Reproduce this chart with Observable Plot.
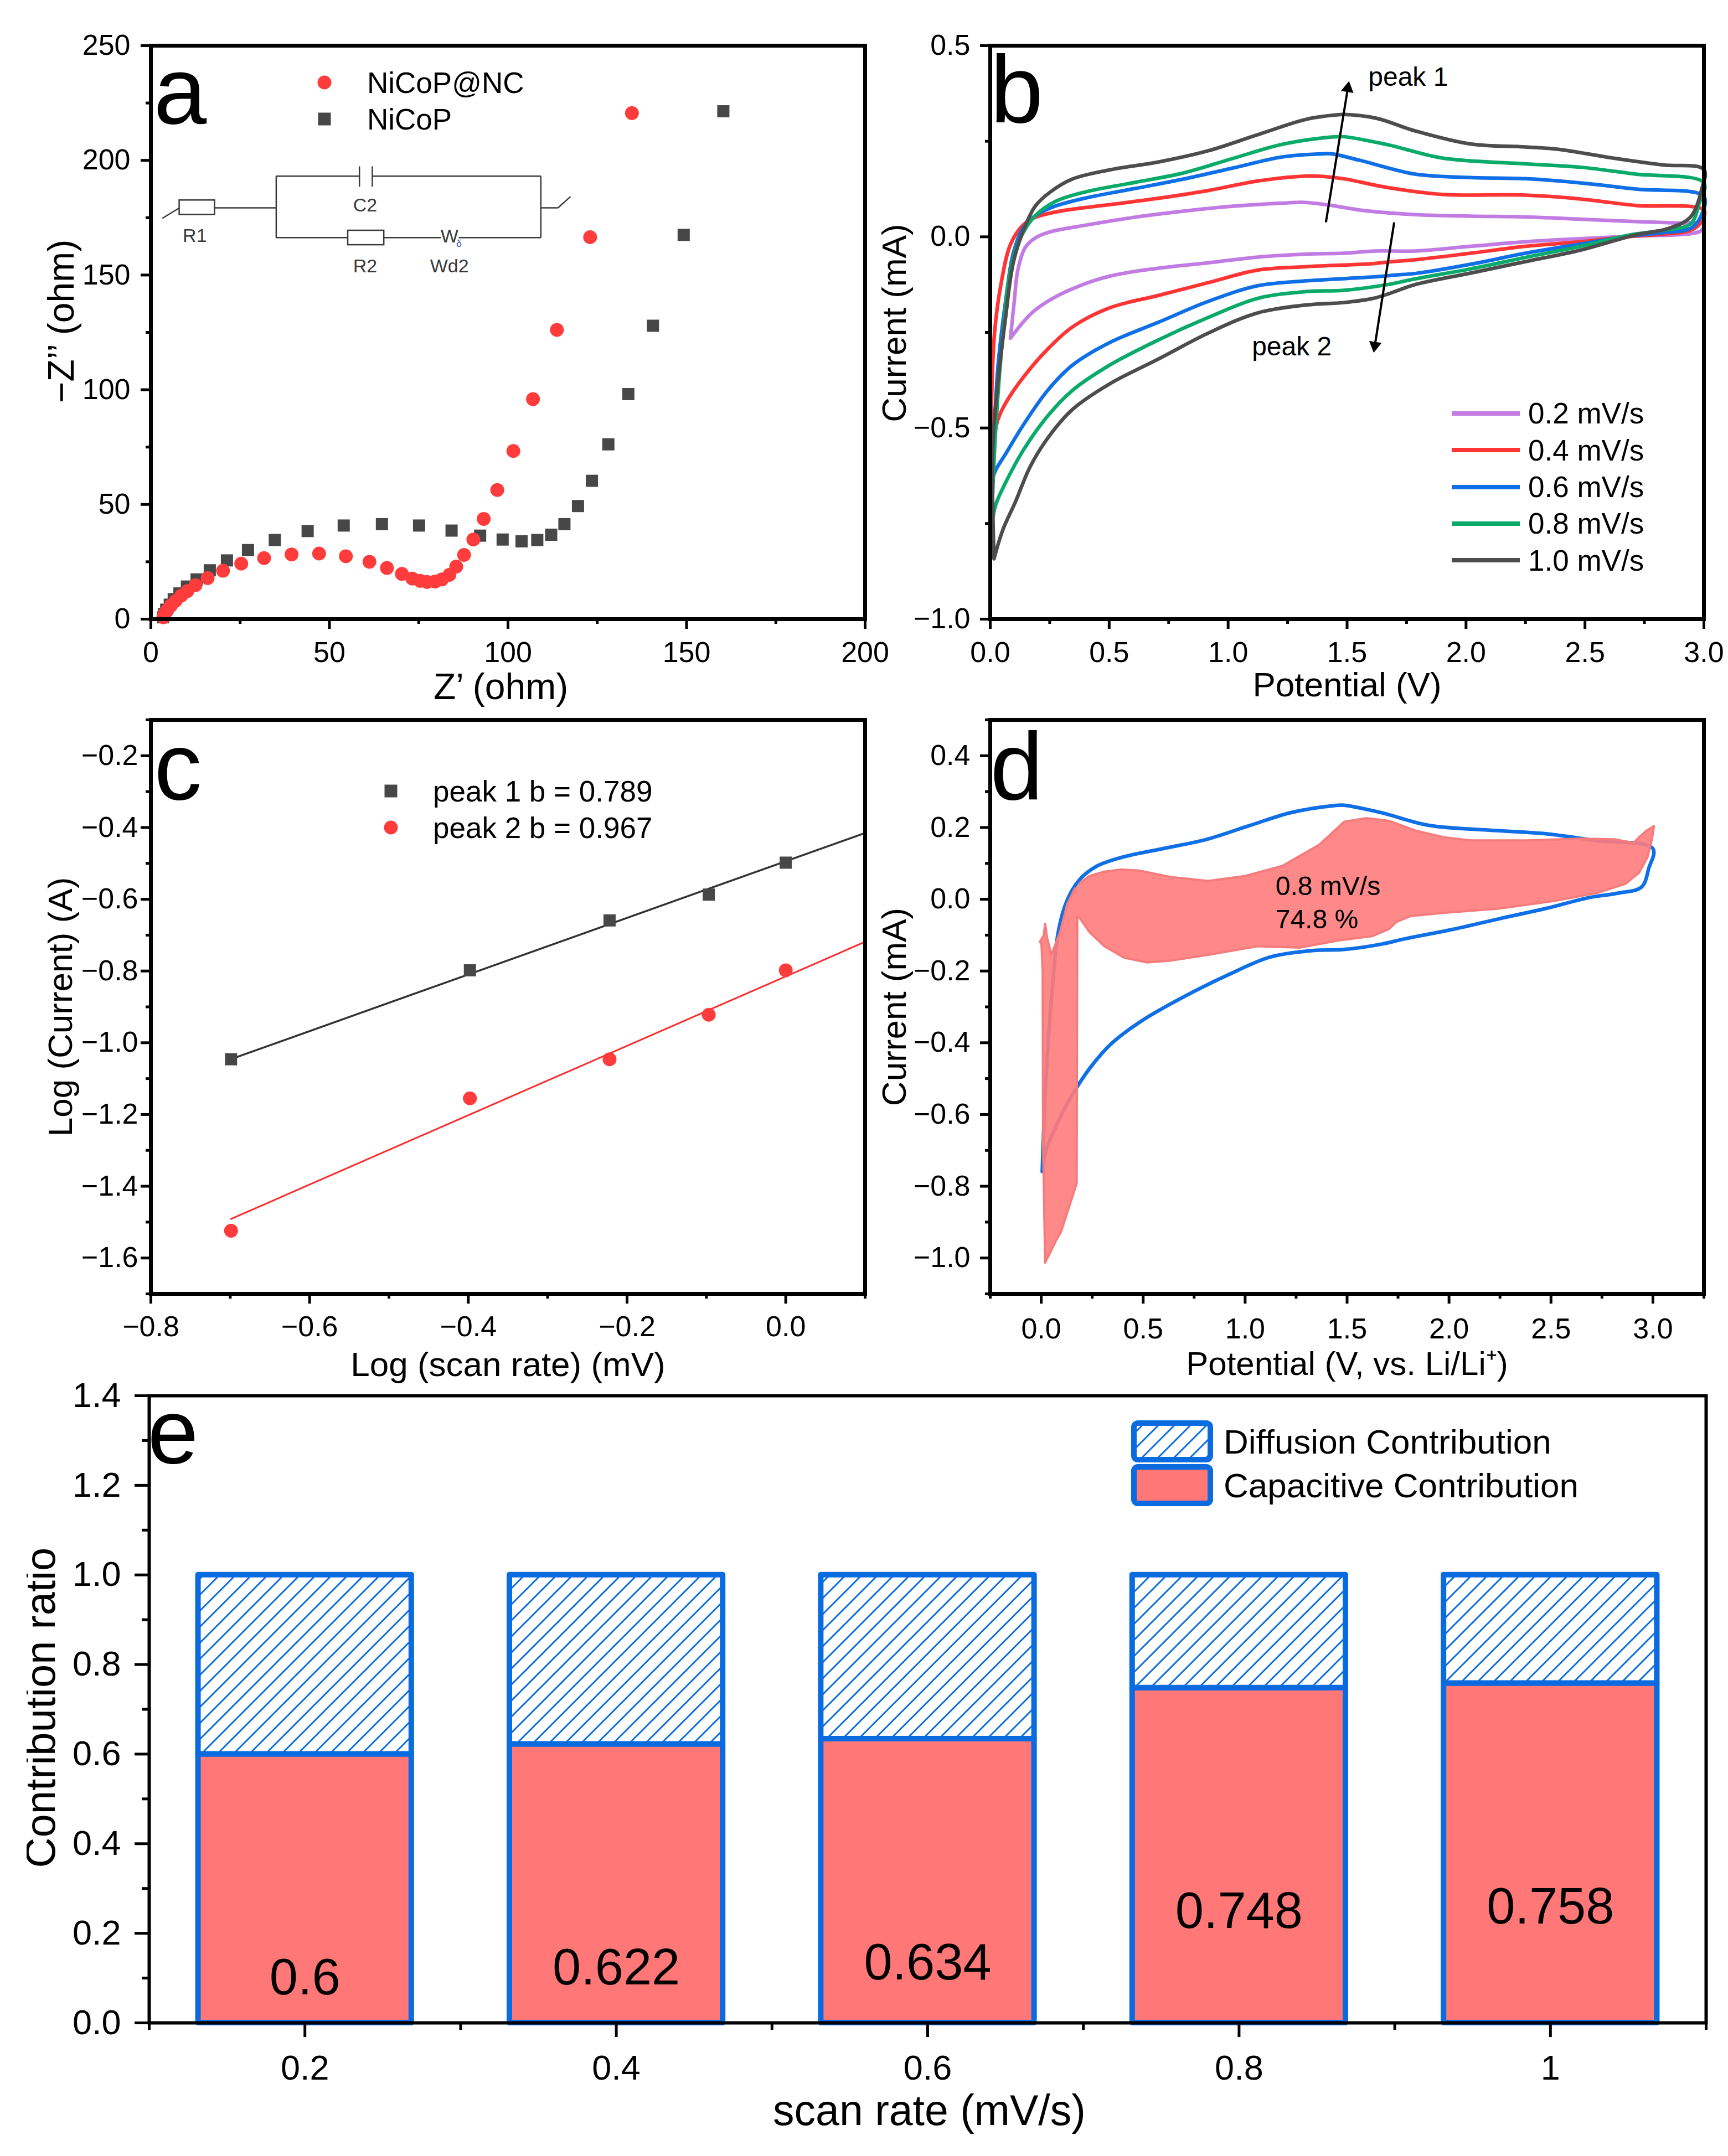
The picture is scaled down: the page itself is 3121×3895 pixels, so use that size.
<!DOCTYPE html>
<html><head><meta charset="utf-8">
<script src="https://cdn.jsdelivr.net/npm/d3@7"></script>
<script src="https://cdn.jsdelivr.net/npm/@observablehq/plot@0.6"></script>
<style>
body{margin:0;background:#fff;}
#fig{position:relative;width:3121px;height:3895px;background:#fff;font-family:"Liberation Sans",Arial,Helvetica,sans-serif;color:#000;overflow:hidden;}
.legend{position:absolute;}
.legend .row{display:flex;align-items:center;white-space:nowrap;}
.legend svg{display:block;flex:none;}
</style></head><body><div id="fig"></div>
<script>
// ---------- (a) EIS Nyquist data ----------
const eisSeries = ["NiCoP@NC", "NiCoP"];
const eisNcRe = [134.7,123.0,113.7,107.0,101.5,97.0,93.2,90.3,87.7,85.5,83.6,81.5,79.6,77.3,75.4,73.2,70.3,66.1,61.2,54.6,47.1,39.4,31.7,25.3,20.2,15.9,12.5,10.2,8.5,6.9,5.6,4.6,3.8,3.5];
const eisNcIm = [220.6,166.5,126.1,95.9,73.3,56.3,43.7,34.7,28.0,22.9,19.3,17.3,16.4,16.2,16.7,17.7,19.7,22.3,25.0,27.4,28.6,28.2,26.6,24.2,21.1,17.9,14.8,12.2,10.2,7.9,5.9,3.9,2.2,0.8];
const eisPRe = [160.3,149.2,140.6,133.7,128.1,123.5,119.6,115.8,112.1,108.2,103.8,98.5,92.2,84.2,75.1,64.7,54.0,43.9,34.7,27.2,21.3,16.5,12.8,10.1,8.0,6.4,5.3,4.3,3.7,3.4];
const eisPIm = [221.4,167.5,127.9,98.1,76.2,60.3,49.3,41.4,36.8,34.5,33.9,34.7,36.4,38.6,40.8,41.4,40.8,38.4,34.5,30.1,25.6,21.3,17.3,14.2,11.2,8.7,6.3,4.1,2.2,0.8];
// equivalent-circuit inset (drawn in panel-a data units)
const circuitWires = [[3.2,174.7,8.0,179.3],[17.9,179.3,35.1,179.3],[35.1,166.3,35.1,193.1],[35.1,193.1,58.4,193.1],[62.0,193.1,109.2,193.1],[109.2,166.3,109.2,193.1],[35.1,166.3,55.2,166.3],[65.3,166.3,81.2,166.3],[86.2,166.3,109.2,166.3],[58.4,188.5,58.4,197.4],[62.0,188.5,62.0,197.4],[109.2,179.3,114.0,179.3],[114.0,179.3,117.5,184.2]];
const circuitResistors = [[8.0,176.3,17.9,182.6],[55.2,163.1,65.3,169.4]];
const circuitLabels = [["R1",12.3,167.1],["C2",60.0,180.3],["R2",60.0,153.7],["Wd2",83.6,153.7],["W",83.6,166.8]];

// ---------- (b) CV curves ----------
const cvRates = ["0.2 mV/s","0.4 mV/s","0.6 mV/s","0.8 mV/s","1.0 mV/s"];
const cv02V = [0.085,0.101,0.116,0.147,0.189,0.252,0.397,0.605,0.812,1.02,1.228,1.323,1.436,1.554,1.786,2.018,2.249,2.481,2.713,2.9,3.0, 2.99,2.944,2.713,2.48,2.249,2.018,1.786,1.62,1.485,1.332,1.124,0.916,0.709,0.501,0.345,0.241,0.168,0.085];
const cv02I = [-0.265,-0.169,-0.087,-0.028,-0.003,0.013,0.030,0.051,0.067,0.080,0.088,0.090,0.082,0.070,0.058,0.054,0.052,0.046,0.040,0.036,0.034, 0.017,0.008,0.002,-0.005,-0.013,-0.025,-0.037,-0.037,-0.043,-0.045,-0.053,-0.068,-0.082,-0.103,-0.136,-0.169,-0.203,-0.265];
const cv04V = [0.005,0.006,0.018,0.044,0.085,0.137,0.189,0.293,0.501,0.709,0.916,1.124,1.332,1.4,1.485,1.67,1.90,2.249,2.481,2.713,3.0, 2.99,2.944,2.83,2.69,2.48,2.249,2.018,1.786,1.67,1.61,1.332,1.124,0.916,0.709,0.501,0.345,0.241,0.137,0.0645,0.033,0.01];
const cv04I = [-0.55,-0.42,-0.252,-0.128,-0.020,0.030,0.051,0.067,0.084,0.101,0.121,0.146,0.159,0.158,0.152,0.129,0.111,0.109,0.099,0.082,0.070, 0.040,0.017,0.007,0.001,-0.013,-0.025,-0.043,-0.060,-0.066,-0.070,-0.078,-0.087,-0.12,-0.153,-0.186,-0.236,-0.294,-0.369,-0.435,-0.477,-0.55];
const cv06V = [0.005,0.01,0.033,0.0645,0.096,0.137,0.189,0.272,0.397,0.605,0.812,1.02,1.228,1.392,1.436,1.554,1.786,2.018,2.249,2.481,2.713,3.0, 2.986,2.944,2.83,2.69,2.48,2.249,2.018,1.786,1.70,1.61,1.332,1.124,0.916,0.709,0.501,0.345,0.241,0.137,0.0645,0.023,0.005];
const cv06I = [-0.643,-0.585,-0.336,-0.169,-0.045,0.022,0.055,0.080,0.101,0.126,0.151,0.180,0.209,0.217,0.217,0.200,0.164,0.155,0.152,0.141,0.125,0.105, 0.052,0.022,0.011,0.002,-0.019,-0.043,-0.072,-0.096,-0.10,-0.105,-0.115,-0.128,-0.169,-0.223,-0.277,-0.336,-0.402,-0.494,-0.568,-0.61,-0.643];
const cv08V = [0.005,0.023,0.054,0.085,0.127,0.189,0.272,0.397,0.605,0.812,1.02,1.228,1.436,1.485,1.67,1.90,2.249,2.481,2.713,3.0, 2.98,2.944,2.83,2.69,2.48,2.249,2.018,1.786,1.67,1.485,1.332,1.124,0.916,0.709,0.501,0.345,0.241,0.137,0.0645,0.023,0.005];
const cv08I = [-0.759,-0.502,-0.252,-0.087,-0.003,0.055,0.092,0.117,0.142,0.167,0.205,0.242,0.261,0.262,0.241,0.206,0.191,0.182,0.164,0.141, 0.087,0.034,0.017,0.005,-0.025,-0.054,-0.084,-0.11,-0.125,-0.14,-0.143,-0.161,-0.211,-0.269,-0.336,-0.402,-0.469,-0.560,-0.643,-0.701,-0.759];
const cv10V = [0.016,0.0105,0.033,0.0645,0.096,0.137,0.189,0.252,0.345,0.501,0.709,0.916,1.124,1.332,1.456,1.485,1.624,1.786,2.018,2.249,2.388,2.597,2.828,3.0, 2.99,2.944,2.852,2.713,2.48,2.249,2.018,1.786,1.67,1.61,1.485,1.332,1.124,0.916,0.709,0.501,0.345,0.241,0.168,0.106,0.052,0.016];
const cv10I = [-0.842,-0.552,-0.377,-0.211,-0.070,0.013,0.080,0.117,0.151,0.175,0.196,0.225,0.267,0.308,0.319,0.320,0.310,0.277,0.243,0.235,0.229,0.208,0.188,0.176, 0.123,0.052,0.022,0.005,-0.035,-0.065,-0.095,-0.125,-0.15,-0.161,-0.172,-0.178,-0.199,-0.252,-0.319,-0.385,-0.452,-0.527,-0.601,-0.693,-0.768,-0.842];
const peakArrows = [{x1:1.411,y1:0.038,x2:1.508,y2:0.407},{x1:1.698,y1:0.038,x2:1.612,y2:-0.303}];
const peakNotes = [{t:"peak 1",x:1.589,y:0.418},{t:"peak 2",x:1.10,y:-0.288}];

// ---------- (c) log(i) vs log(v) ----------
const logScanRate = [-0.699,-0.398,-0.222,-0.097,0.0];
const logPeak1 = [-1.046,-0.798,-0.659,-0.587,-0.498];
const logPeak2 = [-1.524,-1.155,-1.046,-0.922,-0.798];
const bValues = [0.789, 0.967];
const peakLabels = ["peak 1 b = 0.789", "peak 2 b = 0.967"];

// ---------- (d) capacitive contribution at 0.8 mV/s ----------
const capV = [0.189,0.237,0.31,0.395,0.48,0.637,0.819,1.001,1.183,1.364,1.486,1.595,1.703,1.838,1.973,2.108,2.378,2.649,2.811,2.905,2.932,2.968,3.005,2.995,2.973,2.932,2.865,2.73,2.514,2.243,1.973,1.811,1.743,1.703,1.622,1.459,1.267,1.061,0.819,0.637,0.516,0.407,0.31,0.237,0.189,0.177,0.174,0.098,0.074,0.019,0.009,0.007,0.001,-0.007,0.013,0.019,0.029,0.05,0.092,0.128,0.165];
const capI = [0.045,0.065,0.077,0.083,0.080,0.062,0.051,0.065,0.093,0.152,0.216,0.226,0.219,0.191,0.173,0.164,0.164,0.169,0.167,0.157,0.173,0.191,0.204,0.167,0.117,0.074,0.043,0.018,-0.005,-0.026,-0.038,-0.047,-0.063,-0.084,-0.103,-0.115,-0.135,-0.131,-0.155,-0.171,-0.176,-0.163,-0.131,-0.092,-0.052,-0.049,-0.792,-0.926,-0.95,-1.013,-0.674,-0.202,-0.123,-0.119,-0.100,-0.068,-0.108,-0.155,-0.092,-0.013,0.030];
const capNotes = [{t:"0.8 mV/s",x:1.149,y:0.036},{t:"74.8 %",x:1.149,y:-0.057}];

// ---------- (e) contribution ratio ----------
const scanRates = [0.2, 0.4, 0.6, 0.8, 1];
const capacitiveRatio = [0.6, 0.622, 0.634, 0.748, 0.758];
const eSeries = ["Diffusion Contribution", "Capacitive Contribution"];

// ---------- ticks ----------
const ticksAx = [0,50,100,150,200], minorAx = [25,75,125,175];
const ticksAy = [0,50,100,150,200,250], minorAy = [25,75,125,175,225];
const ticksBx = [0,0.5,1,1.5,2,2.5,3], minorBx = [0.25,0.75,1.25,1.75,2.25,2.75];
const ticksBy = [-1,-0.5,0,0.5], minorBy = [-0.75,-0.25,0.25];
const ticksCx = [-0.8,-0.6,-0.4,-0.2,0], minorCx = [-0.7,-0.5,-0.3,-0.1,0.1];
const ticksCy = [-1.6,-1.4,-1.2,-1.0,-0.8,-0.6,-0.4,-0.2], minorCy = [-1.7,-1.5,-1.3,-1.1,-0.9,-0.7,-0.5,-0.3,-0.1];
const ticksDx = [0,0.5,1,1.5,2,2.5,3], minorDx = [-0.25,0.25,0.75,1.25,1.75,2.25,2.75,3.25];
const ticksDy = [-1.0,-0.8,-0.6,-0.4,-0.2,0,0.2,0.4], minorDy = [-1.1,-0.9,-0.7,-0.5,-0.3,-0.1,0.1,0.3,0.5];
const ticksEx = [0.2,0.4,0.6,0.8,1], minorEx = [0.1,0.3,0.5,0.7,0.9,1.1];
const ticksEy = [0,0.2,0.4,0.6,0.8,1.0,1.2,1.4], minorEy = [0.1,0.3,0.5,0.7,0.9,1.1,1.3];

// ---------- styling ----------
const FONT = '"Liberation Sans", Arial, Helvetica, sans-serif';
const cvColors = ["#C27BE3","#FF3434","#0F6FE6","#0AAA6A","#4D4D4D"];
const RED = "#FF3B3B", GRAY = "#474747", BLUE = "#0A6BE0", SALMON = "#FF7777";
const fmt1 = d3.format(".1f");
const fig = document.getElementById("fig");

function styleObj(){ return {fontFamily: FONT, fontSize: "52px", color: "#000", background: "transparent"}; }
function axes(o){
  return [
    Plot.axisX({ticks: o.xt, tickSize: o.major, tickPadding: o.padX, tickFormat: o.fx, fontSize: o.fs, strokeWidth: o.sw, label: null}),
    Plot.axisX({ticks: o.xm, tickSize: o.minor, tickFormat: () => "", strokeWidth: o.sw, label: null}),
    Plot.axisY({ticks: o.yt, tickSize: o.major, tickPadding: o.padY, tickFormat: o.fy, fontSize: o.fs, strokeWidth: o.sw, label: null}),
    Plot.axisY({ticks: o.ym, tickSize: o.minor, tickFormat: () => "", strokeWidth: o.sw, label: null})
  ];
}
function place(svg, left, top, clip){
  svg.style.position = "absolute"; svg.style.left = left + "px"; svg.style.top = top + "px";
  svg.style.maxWidth = "none"; svg.style.overflow = clip ? "hidden" : "visible";
  fig.appendChild(svg);
}
function letter(t, dx, dy, fs){ return Plot.text([t], {frameAnchor: "top-left", textAnchor: "start", lineAnchor: "bottom", dx, dy, fontSize: fs}); }
function xTitle(t, dy, fs, dx = 0){ return Plot.text([t], {frameAnchor: "bottom", textAnchor: "middle", lineAnchor: "bottom", dy, dx, fontSize: fs}); }
function yTitle(t, dx, fs, dy = 0){ return Plot.text([t], {frameAnchor: "left", textAnchor: "middle", rotate: -90, lineAnchor: "bottom", dx, dy, fontSize: fs}); }

// ---------- panel a ----------
const eisNc = eisNcRe.map((re, k) => ({re, im: eisNcIm[k]}));
const eisP = eisPRe.map((re, k) => ({re, im: eisPIm[k]}));
const svgA = Plot.plot({
  width: 1580, height: 1280, marginLeft: 272, marginRight: 18, marginTop: 82, marginBottom: 162,
  style: styleObj(),
  x: {domain: [0, 200]}, y: {domain: [0, 250]},
  marks: [
    Plot.link(circuitWires, {x1: d => d[0], y1: d => d[1], x2: d => d[2], y2: d => d[3], stroke: "#3a3a3a", strokeWidth: 2.5}),
    Plot.rect(circuitResistors, {x1: d => d[0], y1: d => d[1], x2: d => d[2], y2: d => d[3], fill: "white", stroke: "#3a3a3a", strokeWidth: 2.5}),
    Plot.text(circuitLabels, {x: d => d[1], y: d => d[2], text: d => d[0], fontSize: 34, fill: "#3a3a3a"}),
    Plot.text(["δ"], {x: () => 86.3, y: () => 163.6, fontSize: 18, fill: "#3355aa"}),
    Plot.dot(eisP, {x: "re", y: "im", symbol: "square", r: 12.4, fill: GRAY}),
    Plot.dot(eisNc, {x: "re", y: "im", r: 12.5, fill: RED}),
    ...axes({xt: ticksAx, xm: minorAx, yt: ticksAy, ym: minorAy, fx: d => String(d), fy: d => String(d), fs: 52, major: 18, minor: 9, padX: 23, padY: 19, sw: 5}),
    xTitle("Z’ (ohm)", 144, 66, -13),
    yTitle("−Z’’ (ohm)", -140, 66, -20),
    letter("a", 5, 140, 172),
    Plot.frame({strokeWidth: 7})
  ]
});
place(svgA, 0, 0);

// ---------- panel b ----------
const cvV = [cv02V, cv04V, cv06V, cv08V, cv10V], cvI = [cv02I, cv04I, cv06I, cv08I, cv10I];
const cvData = cvRates.flatMap((rate, k) => cvV[k].map((v, j) => ({rate, v, i: cvI[k][j]})));
const bW = 1541, bH = 1280, bM = {l: 208, r: 44, t: 82, b: 162}, bDomX = [0, 3], bDomY = [-1, 0.5];
const bSx = (bW - bM.l - bM.r) / (bDomX[1] - bDomX[0]), bSy = (bH - bM.t - bM.b) / (bDomY[1] - bDomY[0]);
const arrowGeom = peakArrows.map(a => {
  const dxs = (a.x2 - a.x1) * bSx, dys = (a.y2 - a.y1) * bSy;
  const len = Math.hypot(dxs, dys), ux = dxs / len, uy = dys / len;
  return {...a, xb: a.x2 - ux * 18 / bSx, yb: a.y2 - uy * 18 / bSy, xc: a.x2 - ux * 13 / bSx, yc: a.y2 - uy * 13 / bSy, rot: Math.atan2(dxs, dys) * 180 / Math.PI};
});
const svgB = Plot.plot({
  width: bW, height: bH, marginLeft: bM.l, marginRight: bM.r, marginTop: bM.t, marginBottom: bM.b,
  style: styleObj(),
  x: {domain: bDomX}, y: {domain: bDomY},
  color: {domain: cvRates, range: cvColors},
  marks: [
    Plot.line(cvData, {x: "v", y: "i", z: "rate", stroke: "rate", strokeWidth: 6.5, curve: "catmull-rom"}),
    Plot.link(arrowGeom, {x1: "x1", y1: "y1", x2: "xb", y2: "yb", stroke: "#000", strokeWidth: 4}),
    Plot.dot(arrowGeom, {x: "xc", y: "yc", symbol: "triangle", r: 8.5, rotate: "rot", fill: "#000"}),
    Plot.text(peakNotes, {x: "x", y: "y", text: "t", textAnchor: "start", fontSize: 48}),
    ...axes({xt: ticksBx, xm: minorBx, yt: ticksBy, ym: minorBy, fx: fmt1, fy: fmt1, fs: 52, major: 18, minor: 9, padX: 23, padY: 18, sw: 5}),
    xTitle("Potential (V)", 139, 62),
    yTitle("Current (mA)", -153, 62, -17),
    letter("b", 0, 138, 172),
    Plot.frame({strokeWidth: 7})
  ]
});
place(svgB, 1580, 0);

// ---------- panel c ----------
const cDomainX = [-0.8, 0.1];
const peaks = [logPeak1, logPeak2];
const cPoints = peaks.map((ys, k) => logScanRate.map((x, j) => ({k, x, y: ys[j]})));
const cFits = bValues.map((b, k) => {
  const mx = d3.mean(logScanRate), my = d3.mean(peaks[k]);
  const a = my - b * mx;
  return [logScanRate[0], cDomainX[1]].map(x => ({k, x, y: a + b * x}));
});
const svgC = Plot.plot({
  width: 1580, height: 1220, marginLeft: 272, marginRight: 18, marginTop: 20, marginBottom: 163,
  style: styleObj(),
  x: {domain: cDomainX}, y: {domain: [-1.7, -0.1]},
  marks: [
    Plot.line(cFits[0], {x: "x", y: "y", stroke: "#333", strokeWidth: 3.5}),
    Plot.line(cFits[1], {x: "x", y: "y", stroke: "#FF2A2A", strokeWidth: 3}),
    Plot.dot(cPoints[0], {x: "x", y: "y", symbol: "square", r: 12.4, fill: GRAY}),
    Plot.dot(cPoints[1], {x: "x", y: "y", r: 12.5, fill: RED}),
    ...axes({xt: ticksCx, xm: minorCx, yt: ticksCy, ym: minorCy, fx: fmt1, fy: fmt1, fs: 52, major: 18, minor: 9, padX: 22, padY: 5, sw: 5}),
    xTitle("Log (scan rate) (mV)", 148, 62),
    yTitle("Log (Current) (A)", -143, 62),
    letter("c", 6, 143, 172),
    Plot.frame({strokeWidth: 7})
  ]
});
place(svgC, 0, 1280);

// ---------- panel d ----------
const cv08 = cv08V.map((v, j) => ({v, i: cv08I[j]}));
const capPoly = capV.map((v, j) => ({v, i: capI[j]}));
const svgD = Plot.plot({
  width: 1541, height: 1220, marginLeft: 208, marginRight: 44, marginTop: 20, marginBottom: 163,
  style: styleObj(),
  x: {domain: [-0.25, 3.25]}, y: {domain: [-1.1, 0.5]},
  marks: [
    Plot.line(cv08, {x: "v", y: "i", stroke: "#0F6FE6", strokeWidth: 6.5, curve: "catmull-rom"}),
    Plot.line(capPoly, {x: "v", y: "i", fill: "#FF7B7B", fillOpacity: 0.9, stroke: "#F57C7C", strokeWidth: 4, strokeLinejoin: "round"}),
    Plot.text(capNotes, {x: "x", y: "y", text: "t", textAnchor: "start", fontSize: 48}),
    ...axes({xt: ticksDx, xm: minorDx, yt: ticksDy, ym: minorDy, fx: fmt1, fy: fmt1, fs: 52, major: 18, minor: 9, padX: 26, padY: 18, sw: 5}),
    xTitle("Potential (V, vs. Li/Li⁺)", 146, 60),
    yTitle("Current (mA)", -153, 62),
    letter("d", 0, 143, 172),
    Plot.frame({strokeWidth: 7})
  ]
});
place(svgD, 1580, 1280);

// ---------- panel e ----------
const half = 0.0685;
const eData = scanRates.map((rate, k) => ({rate, cap: capacitiveRatio[k]}));
const svgE = Plot.plot({
  width: 3073, height: 1455, marginLeft: 221, marginRight: 40, marginTop: 81, marginBottom: 241,
  style: styleObj(),
  x: {domain: [0.1, 1.1]}, y: {domain: [0, 1.4]},
  marks: [
    Plot.rect(eData, {x1: d => d.rate - half, x2: d => d.rate + half, y1: () => 0, y2: d => d.cap, fill: SALMON, stroke: BLUE, strokeWidth: 10, strokeLinejoin: "round"}),
    Plot.rect(eData, {x1: d => d.rate - half, x2: d => d.rate + half, y1: d => d.cap, y2: () => 1, fill: "url(#hatchE)", stroke: BLUE, strokeWidth: 10, strokeLinejoin: "round"}),
    Plot.text(eData, {x: "rate", y: d => d.cap - 0.5, text: d => String(d.cap), fontSize: 92}),
    ...axes({xt: ticksEx, xm: minorEx, yt: ticksEy, ym: minorEy, fx: d => String(d), fy: fmt1, fs: 63, major: 26, minor: 13, padX: 32, padY: 25, sw: 5}),
    xTitle("scan rate (mV/s)", 184, 77, 3),
    yTitle("Contribution ratio", -171, 76, -3),
    letter("e", -3, 121, 165),
    Plot.frame({strokeWidth: 6})
  ]
});
d3.select(svgE).insert("defs", ":first-child").html(
  `<pattern id="hatchE" patternUnits="userSpaceOnUse" width="29" height="29"><rect width="29" height="29" fill="white"/><path d="M-8,8 L8,-8 M0,29 L29,0 M21,37 L37,21" stroke="${BLUE}" stroke-width="3"/></pattern>`);
place(svgE, 48, 2440, true);

// ---------- legends ----------
function legend(left, firstCenter, pitch, fontSize, gap, items){
  const div = document.createElement("div");
  div.className = "legend";
  div.style.left = left + "px"; div.style.top = (firstCenter - pitch / 2) + "px";
  for (const it of items){
    const row = document.createElement("div");
    row.className = "row";
    row.style.height = pitch + "px"; row.style.fontSize = fontSize + "px";
    row.innerHTML = it.swatch + `<span style="margin-left:${gap}px">${it.label}</span>`;
    div.appendChild(row);
  }
  fig.appendChild(div);
}
const swCircle = c => `<svg width="40" height="40"><circle cx="20" cy="20" r="12.5" fill="${c}"/></svg>`;
const swSquare = c => `<svg width="40" height="40"><rect x="8.5" y="8.5" width="23" height="23" fill="${c}"/></svg>`;
const swLine = c => `<svg width="123" height="20"><line x1="0" x2="123" y1="10" y2="10" stroke="${c}" stroke-width="8"/></svg>`;
const swBox = f => `<svg width="148" height="76"><defs><pattern id="hatchL" patternUnits="userSpaceOnUse" width="29" height="29"><rect width="29" height="29" fill="white"/><path d="M-8,8 L8,-8 M0,29 L29,0 M21,37 L37,21" stroke="${BLUE}" stroke-width="3"/></pattern></defs><rect x="5" y="5" width="138" height="66" rx="7" fill="${f}" stroke="${BLUE}" stroke-width="10"/></svg>`;

legend(566, 149, 66, 53, 57, [{swatch: swCircle(RED), label: eisSeries[0]}, {swatch: swSquare(GRAY), label: eisSeries[1]}]);
legend(2622, 747, 66.3, 53, 15, cvRates.map((r, k) => ({swatch: swLine(cvColors[k]), label: r})));
legend(686, 1429, 66, 53, 56, [{swatch: swSquare(GRAY), label: peakLabels[0]}, {swatch: swCircle(RED), label: peakLabels[1]}]);
legend(2043, 2604, 79, 62, 19, [{swatch: swBox("url(#hatchL)"), label: eSeries[0]}, {swatch: swBox(SALMON), label: eSeries[1]}]);
</script></body></html>
